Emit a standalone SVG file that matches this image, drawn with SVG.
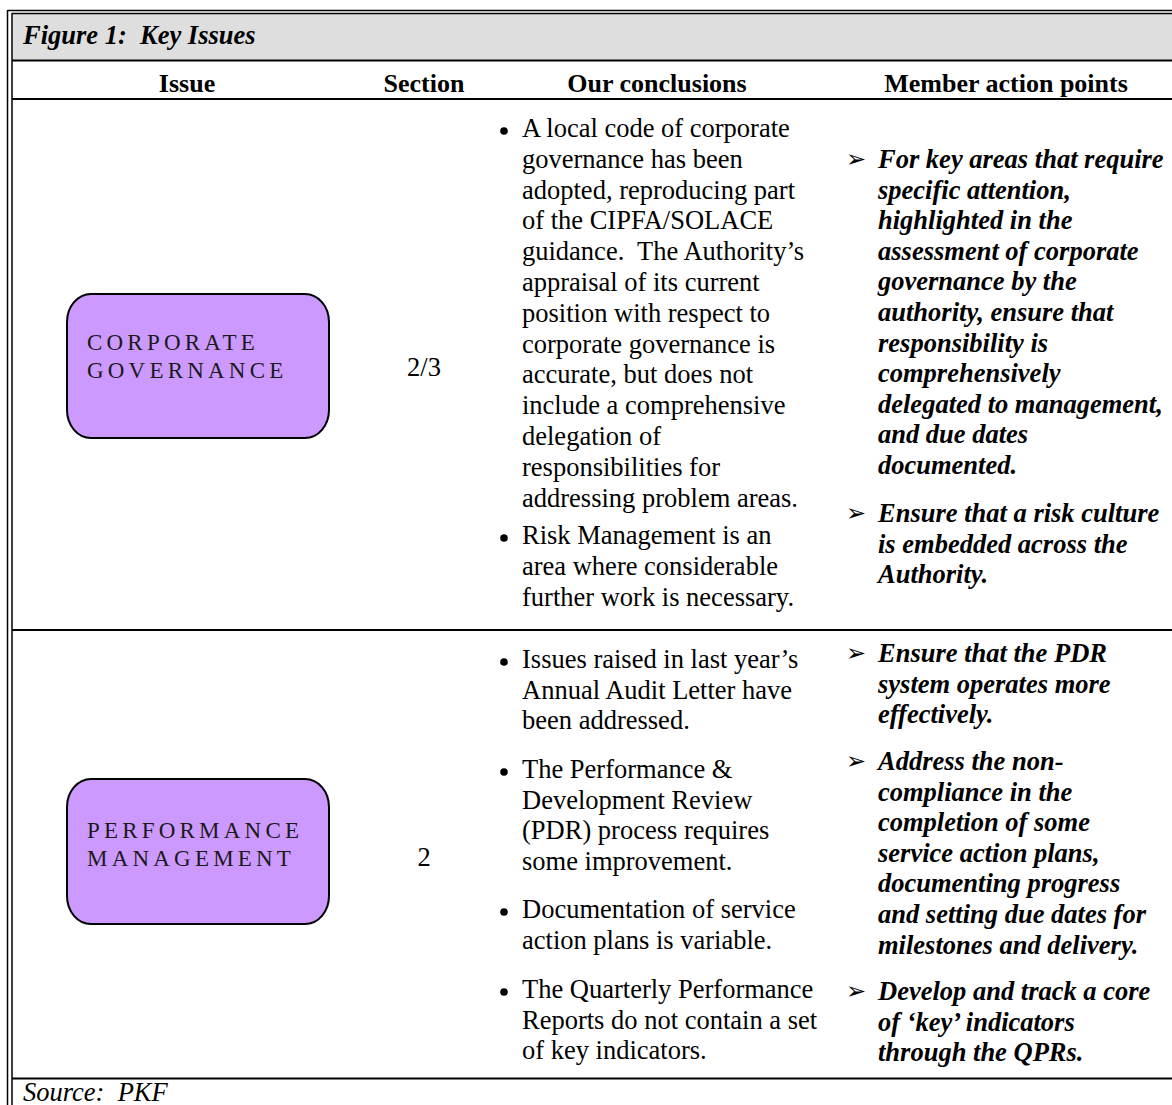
<svg xmlns="http://www.w3.org/2000/svg" width="1172" height="1105" viewBox="0 0 1172 1105">
<style>
.t{font-family:"Liberation Serif","Times New Roman",serif;font-size:26.5px;fill:#000}
.b{font-weight:bold}
.bi{font-weight:bold;font-style:italic}
.i{font-style:italic}
.h{font-family:"Liberation Serif","Times New Roman",serif;font-size:26px;font-weight:bold;fill:#000;text-anchor:middle}
.box{fill:#CC99FF;stroke:#000;stroke-width:2}
.bx{font-family:"Liberation Serif","Times New Roman",serif;font-size:23px;letter-spacing:4.2px;fill:#1a1a1a}
.ln{stroke:#000;stroke-width:2.2;fill:none}
.bd{stroke:#000;stroke-width:1.5;fill:none}
.ar{font-family:"DejaVu Sans",sans-serif;font-size:24px;fill:#000}
</style>
<rect x="0" y="0" width="1172" height="1105" fill="#fff"/>
<g id="frame">
<rect x="12.5" y="14" width="1160" height="46" fill="#DEDEDE"/>
<line class="bd" x1="7.5" y1="10.5" x2="1172" y2="10.5"/>
<line class="bd" x1="12" y1="13.5" x2="1172" y2="13.5"/>
<line class="bd" x1="7.5" y1="10" x2="7.5" y2="1105"/>
<line class="bd" x1="12" y1="13" x2="12" y2="1105"/>
<line class="ln" x1="12" y1="60.5" x2="1172" y2="60.5"/>
<line class="ln" x1="12" y1="99" x2="1172" y2="99"/>
<line class="ln" x1="12" y1="630" x2="1172" y2="630"/>
<line class="ln" x1="12" y1="1078.5" x2="1172" y2="1078.5"/>
</g>
<g id="title">
<text class="t bi" x="23" y="44">Figure 1:&#160; Key Issues</text>
</g>
<g id="headers">
<text class="h" x="187" y="92">Issue</text>
<text class="h" x="424" y="92">Section</text>
<text class="h" x="657" y="92">Our conclusions</text>
<text class="h" x="1006" y="92">Member action points</text>
</g>
<g id="node-corporate-governance">
<rect class="box" x="67" y="294" width="262" height="144" rx="24" ry="28"/>
<text class="bx" x="87" y="350">CORPORATE</text>
<text class="bx" x="87" y="378">GOVERNANCE</text>
</g>
<g id="node-performance-management">
<rect class="box" x="67" y="779" width="262" height="145" rx="24" ry="28"/>
<text class="bx" x="87" y="838">PERFORMANCE</text>
<text class="bx" x="87" y="866">MANAGEMENT</text>
</g>
<g id="sections">
<text class="t" x="424" y="376" text-anchor="middle">2/3</text>
<text class="t" x="424" y="866" text-anchor="middle">2</text>
</g>
<g id="conclusions-1">
<circle cx="504" cy="131" r="3.8"/>
<circle cx="504" cy="538" r="3.8"/>
<text class="t" x="522" y="137">A local code of corporate</text>
<text class="t" x="522" y="167.8">governance has been</text>
<text class="t" x="522" y="198.6">adopted, reproducing part</text>
<text class="t" x="522" y="229.4">of the CIPFA/SOLACE</text>
<text class="t" x="522" y="260.2">guidance.&#160; The Authority’s</text>
<text class="t" x="522" y="291">appraisal of its current</text>
<text class="t" x="522" y="321.8">position with respect to</text>
<text class="t" x="522" y="352.6">corporate governance is</text>
<text class="t" x="522" y="383.4">accurate, but does not</text>
<text class="t" x="522" y="414.2">include a comprehensive</text>
<text class="t" x="522" y="445">delegation of</text>
<text class="t" x="522" y="475.8">responsibilities for</text>
<text class="t" x="522" y="506.6">addressing problem areas.</text>
<text class="t" x="522" y="544">Risk Management is an</text>
<text class="t" x="522" y="574.8">area where considerable</text>
<text class="t" x="522" y="605.6">further work is necessary.</text>
</g>
<g id="conclusions-2">
<circle cx="504" cy="662" r="3.8"/>
<circle cx="504" cy="772" r="3.8"/>
<circle cx="504" cy="912" r="3.8"/>
<circle cx="504" cy="992" r="3.8"/>
<text class="t" x="522" y="668">Issues raised in last year’s</text>
<text class="t" x="522" y="698.6">Annual Audit Letter have</text>
<text class="t" x="522" y="729.2">been addressed.</text>
<text class="t" x="522" y="778">The Performance &amp;</text>
<text class="t" x="522" y="808.6">Development Review</text>
<text class="t" x="522" y="839.2">(PDR) process requires</text>
<text class="t" x="522" y="869.8">some improvement.</text>
<text class="t" x="522" y="918">Documentation of service</text>
<text class="t" x="522" y="948.6">action plans is variable.</text>
<text class="t" x="522" y="998">The Quarterly Performance</text>
<text class="t" x="522" y="1028.6">Reports do not contain a set</text>
<text class="t" x="522" y="1059.2">of key indicators.</text>
</g>
<g id="actions-1">
<text class="ar" x="846" y="167">➢</text>
<text class="ar" x="846" y="521">➢</text>
<text class="t bi" x="878" y="168">For key areas that require</text>
<text class="t bi" x="878" y="198.6">specific attention,</text>
<text class="t bi" x="878" y="229.2">highlighted in the</text>
<text class="t bi" x="878" y="259.8">assessment of corporate</text>
<text class="t bi" x="878" y="290.4">governance by the</text>
<text class="t bi" x="878" y="321">authority, ensure that</text>
<text class="t bi" x="878" y="351.6">responsibility is</text>
<text class="t bi" x="878" y="382.2">comprehensively</text>
<text class="t bi" x="878" y="412.8">delegated to management,</text>
<text class="t bi" x="878" y="443.4">and due dates</text>
<text class="t bi" x="878" y="474">documented.</text>
<text class="t bi" x="878" y="522">Ensure that a risk culture</text>
<text class="t bi" x="878" y="552.6">is embedded across the</text>
<text class="t bi" x="878" y="583.2">Authority.</text>
</g>
<g id="actions-2">
<text class="ar" x="846" y="661">➢</text>
<text class="ar" x="846" y="769">➢</text>
<text class="ar" x="846" y="999">➢</text>
<text class="t bi" x="878" y="662">Ensure that the PDR</text>
<text class="t bi" x="878" y="692.6">system operates more</text>
<text class="t bi" x="878" y="723.2">effectively.</text>
<text class="t bi" x="878" y="770">Address the non-</text>
<text class="t bi" x="878" y="800.6">compliance in the</text>
<text class="t bi" x="878" y="831.2">completion of some</text>
<text class="t bi" x="878" y="861.8">service action plans,</text>
<text class="t bi" x="878" y="892.4">documenting progress</text>
<text class="t bi" x="878" y="923">and setting due dates for</text>
<text class="t bi" x="878" y="953.6">milestones and delivery.</text>
<text class="t bi" x="878" y="1000">Develop and track a core</text>
<text class="t bi" x="878" y="1030.6">of ‘key’ indicators</text>
<text class="t bi" x="878" y="1061.2">through the QPRs.</text>
</g>
<g id="source">
<text class="t i" x="23" y="1101">Source:&#160; PKF</text>
</g>
</svg>
